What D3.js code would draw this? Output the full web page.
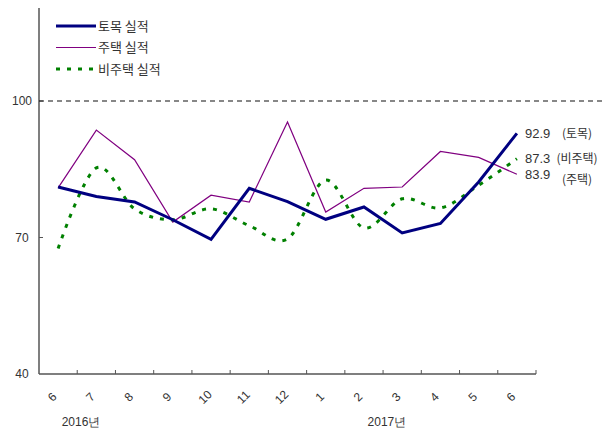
<!DOCTYPE html>
<html>
<head>
<meta charset="utf-8">
<script src="https://cdn.jsdelivr.net/npm/d3@7"></script>
<style>
  body { margin: 0; background: #fff; }
  text { fill: #333; }
  .num { font-family: 'Liberation Sans Narrow', 'Liberation Sans', Arial, sans-serif; }
  .kr { font-family: 'Noto Sans CJK KR', sans-serif; }
</style>
</head>
<body>
<div id="chart"></div>
<script>
// data
const months = ['6', '7', '8', '9', '10', '11', '12', '1', '2', '3', '4', '5', '6'];
const civil = [81.1, 79.0, 77.8, 73.9, 69.6, 80.8, 77.9, 74.0, 76.7, 71.0, 73.1, 82.2, 92.9];
const housing = [80.9, 93.6, 87.1, 73.4, 79.3, 77.8, 95.4, 75.6, 80.8, 81.1, 88.9, 87.6, 83.9];
const nonHousing = [67.6, 85.3, 76.3, 73.9, 76.3, 72.6, 69.7, 82.6, 72.1, 78.5, 76.5, 81.5, 87.3];
const yTicks = [40, 70, 100];
const years = ['2016년', '2017년'];
const yearStart = [0, 8]; // index of the month under which the year label sits
const baseline = 100;

const width = 604;
const height = 432;

const svg = d3.select('#chart')
  .append('svg')
  .attr('width', width)
  .attr('height', height);

// scales
const x = d3.scaleBand()
  .domain(d3.range(months.length))
  .range([39, 536]);

const y = d3.scaleLinear()
  .domain([40, 100])
  .range([374, 101]);

const cx = i => x(i) + x.bandwidth() / 2;

// axes
const axisColor = '#555';

svg.append('line')
  .attr('x1', 39).attr('x2', 39)
  .attr('y1', 8).attr('y2', y(40))
  .attr('stroke', axisColor)
  .attr('stroke-width', 1.5);

svg.append('line')
  .attr('x1', 39).attr('x2', 536)
  .attr('y1', y(40)).attr('y2', y(40))
  .attr('stroke', axisColor)
  .attr('stroke-width', 1.5);

// x ticks at band edges, pointing up
svg.selectAll('.xtick')
  .data(d3.range(1, months.length + 1))
  .enter()
  .append('line')
  .attr('x1', d => 39 + d * x.step())
  .attr('x2', d => 39 + d * x.step())
  .attr('y1', y(40))
  .attr('y2', y(40) - 4)
  .attr('stroke', axisColor);

// y ticks pointing right
svg.selectAll('.ytick')
  .data(yTicks.slice(1))
  .enter()
  .append('line')
  .attr('x1', 39).attr('x2', 43)
  .attr('y1', d => y(d)).attr('y2', d => y(d))
  .attr('stroke', axisColor);

svg.selectAll('.ylabel')
  .data(yTicks)
  .enter()
  .append('text')
  .attr('class', 'num')
  .attr('x', 22)
  .attr('y', d => y(d))
  .attr('dy', '0.35em')
  .attr('text-anchor', 'middle')
  .style('font-size', '12px')
  .text(d => d);

// month labels, rotated
svg.selectAll('.xlabel')
  .data(months)
  .enter()
  .append('text')
  .attr('class', 'num')
  .attr('transform', (d, i) => `translate(${cx(i) - 6},${397}) rotate(-45)`)
  .attr('dy', '0.35em')
  .attr('text-anchor', 'middle')
  .style('font-size', '12px')
  .text(d => d);

svg.selectAll('.year')
  .data(years)
  .enter()
  .append('text')
  .attr('class', 'num')
  .attr('x', (d, i) => cx(yearStart[i]) + 0.6 * x.step())
  .attr('y', 422)
  .attr('dy', '0.35em')
  .attr('text-anchor', 'middle')
  .style('font-size', '12px')
  .text(d => d);

// 100 reference line
svg.append('line')
  .attr('x1', 39).attr('x2', width)
  .attr('y1', y(baseline)).attr('y2', y(baseline))
  .attr('stroke', '#111')
  .attr('stroke-width', 1.2)
  .attr('stroke-dasharray', '5,4');

// series
const series = [
  { name: '토목 실적', tag: '(토목)', values: civil, color: '#000080', w: 3, dash: null, curve: d3.curveLinear, tagDy: 0 },
  { name: '주택 실적', tag: '(주택)', values: housing, color: '#800080', w: 1.2, dash: null, curve: d3.curveLinear, tagDy: 6 },
  { name: '비주택 실적', tag: '(비주택)', values: nonHousing, color: '#008000', w: 3, dash: '4,7', curve: d3.curveCardinal.tension(0), tagDy: 0 },
];

const drawOrder = [1, 2, 0];

drawOrder.forEach(k => {
  const s = series[k];
  const line = d3.line()
    .x((d, i) => cx(i))
    .y(d => y(d))
    .curve(s.curve);
  svg.append('path')
    .datum(s.values)
    .attr('d', line)
    .attr('fill', 'none')
    .attr('stroke', s.color)
    .attr('stroke-width', s.w)
    .attr('stroke-dasharray', s.dash);
});

// end labels
series.forEach(s => {
  const last = s.values[s.values.length - 1];
  svg.append('text')
    .attr('class', 'num')
    .attr('x', 525)
    .attr('y', y(last))
    .attr('dy', '0.35em')
    .style('font-size', '13px')
    .text(last.toFixed(1));
  svg.append('text')
    .attr('class', 'kr')
    .attr('x', 577)
    .attr('y', y(last) + s.tagDy)
    .attr('dy', '0.35em')
    .attr('text-anchor', 'middle')
    .style('font-size', '12px')
    .text(s.tag);
});

// legend
const legend = svg.append('g')
  .attr('transform', 'translate(56,26)');

series.forEach((s, i) => {
  const g = legend.append('g')
    .attr('transform', `translate(0,${i * 21.5})`);
  g.append('line')
    .attr('x1', 0).attr('x2', 40)
    .attr('stroke', s.color)
    .attr('stroke-width', s.w)
    .attr('stroke-dasharray', s.dash);
  g.append('text')
    .attr('class', 'kr')
    .attr('x', 42)
    .attr('dy', '0.35em')
    .style('font-size', '13px')
    .text(s.name);
});
</script>
</body>
</html>
